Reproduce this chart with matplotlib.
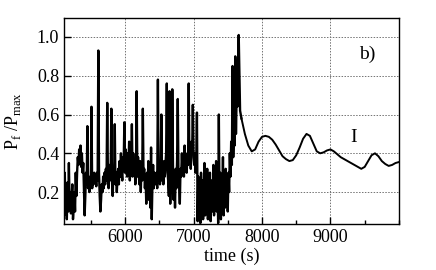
import numpy as np
import matplotlib.pyplot as plt
from matplotlib.ticker import MultipleLocator

plt.rcParams['font.family'] = 'Liberation Serif'
plt.rcParams['mathtext.fontset'] = 'custom'
plt.rcParams['mathtext.rm'] = 'Liberation Serif'

# noisy part: one value every 10 s from 5100 s up to 7680 s
t_noisy_start = 5100
t_noisy_step = 10
p_noisy = [
    0.22, 0.08, 0.30, 0.12, 0.18, 0.06, 0.25, 0.10, 0.35, 0.14,  # 5100
    0.20, 0.09, 0.16, 0.24, 0.06, 0.12, 0.20, 0.10, 0.30, 0.18,  # 5200
    0.30, 0.38, 0.34, 0.42, 0.36, 0.44, 0.33, 0.40, 0.30, 0.35,  # 5300
    0.22, 0.08, 0.18, 0.30, 0.24, 0.54, 0.22, 0.28, 0.20, 0.26,  # 5400
    0.24, 0.64, 0.22, 0.28, 0.24, 0.30, 0.25, 0.28, 0.23, 0.30,  # 5500
    0.26, 0.93, 0.30, 0.18, 0.10, 0.16, 0.24, 0.20, 0.28, 0.22,  # 5600
    0.30, 0.24, 0.32, 0.26, 0.66, 0.28, 0.22, 0.34, 0.26, 0.30,  # 5700
    0.63, 0.25, 0.18, 0.32, 0.27, 0.55, 0.24, 0.30, 0.20, 0.28,  # 5800
    0.32, 0.24, 0.36, 0.28, 0.40, 0.30, 0.26, 0.38, 0.34, 0.56,  # 5900
    0.30, 0.42, 0.36, 0.28, 0.40, 0.34, 0.46, 0.26, 0.38, 0.32,  # 6000
    0.55, 0.28, 0.40, 0.30, 0.36, 0.24, 0.32, 0.72, 0.28, 0.38,  # 6100
    0.30, 0.24, 0.36, 0.20, 0.34, 0.26, 0.63, 0.28, 0.32, 0.22,  # 6200
    0.28, 0.14, 0.30, 0.20, 0.36, 0.16, 0.26, 0.12, 0.43, 0.06,  # 6300
    0.24, 0.34, 0.22, 0.30, 0.26, 0.24, 0.30, 0.22, 0.78, 0.26,  # 6400
    0.30, 0.24, 0.28, 0.60, 0.26, 0.32, 0.24, 0.36, 0.28, 0.34,  # 6500
    0.40, 0.76, 0.30, 0.26, 0.18, 0.72, 0.14, 0.30, 0.20, 0.73,  # 6600
    0.34, 0.16, 0.28, 0.12, 0.32, 0.22, 0.36, 0.68, 0.30, 0.24,  # 6700
    0.14, 0.32, 0.28, 0.40, 0.30, 0.36, 0.28, 0.44, 0.32, 0.38,  # 6800
    0.30, 0.40, 0.34, 0.76, 0.36, 0.42, 0.32, 0.46, 0.40, 0.65,  # 6900
    0.38, 0.34, 0.40, 0.30, 0.36, 0.61, 0.05, 0.28, 0.08, 0.22,  # 7000
    0.04, 0.30, 0.10, 0.26, 0.06, 0.20, 0.35, 0.08, 0.24, 0.12,  # 7100
    0.32, 0.06, 0.22, 0.14, 0.30, 0.05, 0.26, 0.18, 0.10, 0.34,  # 7200
    0.08, 0.28, 0.14, 0.36, 0.10, 0.24, 0.04, 0.60, 0.12, 0.30,  # 7300
    0.06, 0.26, 0.16, 0.38, 0.08, 0.22, 0.12, 0.32, 0.18, 0.28,  # 7400
    0.10, 0.30, 0.20, 0.40, 0.28, 0.46, 0.34, 0.85, 0.38, 0.52,  # 7500
    0.44, 0.90, 0.50, 0.70, 0.64, 0.86, 1.01, 0.80, 0.62,        # 7600
]

# smooth part after the burst
t_smooth = [7700, 7750, 7800, 7850, 7900, 7950, 8000, 8050, 8100, 8150,
            8200, 8250, 8300, 8350, 8400, 8450, 8500, 8550, 8600, 8650,
            8700, 8750, 8800, 8850, 8900, 8950, 9000, 9050, 9100, 9150,
            9200, 9250, 9300, 9350, 9400, 9450, 9500, 9550, 9600, 9650,
            9700, 9750, 9800, 9850, 9900, 9950, 10000]
p_smooth = [0.58, 0.50, 0.44, 0.41, 0.42, 0.46, 0.485, 0.49, 0.485, 0.47,
            0.445, 0.415, 0.385, 0.37, 0.36, 0.365, 0.39, 0.43, 0.475, 0.50,
            0.49, 0.45, 0.41, 0.40, 0.405, 0.415, 0.42, 0.41, 0.395, 0.38,
            0.37, 0.36, 0.35, 0.34, 0.33, 0.32, 0.33, 0.36, 0.39, 0.40,
            0.385, 0.36, 0.345, 0.335, 0.34, 0.35, 0.355]

t_noisy = t_noisy_start + t_noisy_step * np.arange(len(p_noisy))

fig = plt.figure(figsize=(4.36, 2.70), dpi=100)
ax = fig.add_axes([0.147, 0.170, 0.768, 0.765])

ax.plot(np.append(t_noisy, t_smooth[0]), np.append(p_noisy, p_smooth[0]),
        color='black', lw=1.7)
ax.plot(t_smooth, p_smooth, color='black', lw=1.4)

ax.set_xlim(5110, 10000)
ax.set_ylim(0.035, 1.10)
ax.xaxis.set_minor_locator(MultipleLocator(500))
ax.set_xticks([6000, 7000, 8000, 9000])
ax.set_yticks([0.2, 0.4, 0.6, 0.8, 1.0])
ax.tick_params(direction='in', length=5, width=1, labelsize=13, top=False, right=False)
ax.tick_params(which='minor', direction='in', length=3, width=1)
ax.grid(True, color='0.45', linestyle=(0, (1.5, 1.5)), linewidth=0.7)
for s in ax.spines.values():
    s.set_linewidth(1.0)

ax.set_xlabel('time (s)', fontsize=13, labelpad=1)
ax.set_ylabel(r'P$_{\rm f}$ /P$_{\rm max}$', fontsize=13, labelpad=10)

ax.text(9530, 0.91, 'b)', fontsize=14, ha='center', va='center')
ax.text(9343, 0.48, 'I', fontsize=14, ha='center', va='center')

fig.savefig('out.png', dpi=100)
